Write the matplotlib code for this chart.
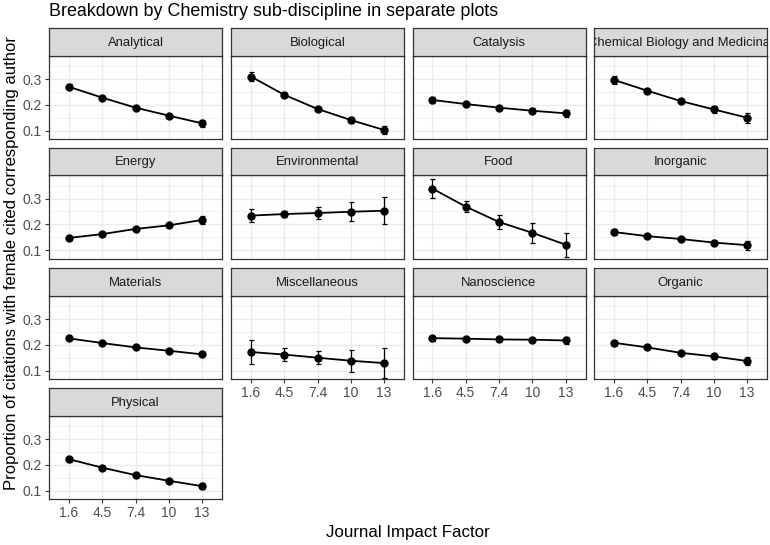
import matplotlib
matplotlib.use("Agg")
import matplotlib.pyplot as plt
from matplotlib.ticker import MultipleLocator
import numpy as np

plt.rcParams['font.family'] = ['Liberation Sans', 'DejaVu Sans']

impact_labels = ["1.6", "4.5", "7.4", "10", "13"]

disciplines = ["Analytical", "Biological", "Catalysis", "Chemical Biology and Medicinal",
               "Energy", "Environmental", "Food", "Inorganic",
               "Materials", "Miscellaneous", "Nanoscience", "Organic",
               "Physical"]

analytical = [0.270, 0.228, 0.189, 0.158, 0.128]
biological = [0.310, 0.239, 0.184, 0.141, 0.102]
catalysis = [0.219, 0.203, 0.189, 0.177, 0.167]
chem_bio_med = [0.297, 0.255, 0.215, 0.182, 0.150]
energy = [0.147, 0.162, 0.182, 0.196, 0.217]
environmental = [0.234, 0.240, 0.244, 0.249, 0.253]
food = [0.339, 0.269, 0.209, 0.167, 0.121]
inorganic = [0.170, 0.154, 0.143, 0.129, 0.119]
materials = [0.225, 0.207, 0.190, 0.177, 0.163]
miscellaneous = [0.172, 0.162, 0.150, 0.138, 0.129]
nanoscience = [0.226, 0.224, 0.221, 0.220, 0.217]
organic = [0.208, 0.190, 0.169, 0.155, 0.137]
physical = [0.222, 0.189, 0.160, 0.138, 0.117]

analytical_err = [0.010, 0.006, 0.006, 0.008, 0.014]
biological_err = [0.018, 0.008, 0.008, 0.012, 0.014]
catalysis_err = [0.012, 0.007, 0.006, 0.009, 0.014]
chem_bio_med_err = [0.016, 0.008, 0.009, 0.014, 0.020]
energy_err = [0.009, 0.006, 0.006, 0.008, 0.017]
environmental_err = [0.024, 0.011, 0.022, 0.036, 0.052]
food_err = [0.038, 0.020, 0.028, 0.040, 0.047]
inorganic_err = [0.010, 0.006, 0.006, 0.009, 0.018]
materials_err = [0.005, 0.004, 0.004, 0.004, 0.008]
miscellaneous_err = [0.047, 0.025, 0.026, 0.043, 0.060]
nanoscience_err = [0.010, 0.005, 0.005, 0.007, 0.013]
organic_err = [0.011, 0.006, 0.006, 0.009, 0.015]
physical_err = [0.010, 0.005, 0.006, 0.008, 0.012]

values = [analytical, biological, catalysis, chem_bio_med, energy, environmental,
          food, inorganic, materials, miscellaneous, nanoscience, organic, physical]
errors = [analytical_err, biological_err, catalysis_err, chem_bio_med_err, energy_err,
          environmental_err, food_err, inorganic_err, materials_err, miscellaneous_err,
          nanoscience_err, organic_err, physical_err]

W, H = 770, 545
fig = plt.figure(figsize=(7.7, 5.45), dpi=100)

col_left = [49, 231, 412.5, 594]
col_w = 173
row_top = [28, 147.5, 268, 388]
strip_h = 27.5
panel_h = 83.5

grid_c = '#EBEBEB'
border_c = '#333333'
x = np.arange(len(impact_labels))

for i, (name, vals, errs) in enumerate(zip(disciplines, values, errors)):
    r, c = divmod(i, 4)
    l = col_left[c]
    t = row_top[r]
    ax = fig.add_axes([l / W, 1 - (t + strip_h + panel_h) / H, col_w / W, panel_h / H])
    sax = fig.add_axes([l / W, 1 - (t + strip_h) / H, col_w / W, strip_h / H])
    # strip (long names are clipped at the strip edge, as in the original)
    sax.set_facecolor('#D9D9D9')
    sax.set_xticks([]); sax.set_yticks([])
    for s in sax.spines.values():
        s.set_color(border_c); s.set_linewidth(0.9)
    sax.text(0.5, 0.47, name, ha='center', va='center', fontsize=9.4,
             color='#1A1A1A', transform=sax.transAxes, clip_on=True)
    # panel
    ax.set_facecolor('white')
    ax.set_xlim(-0.6, len(impact_labels) - 0.4)
    ax.set_ylim(0.067, 0.392)
    ax.yaxis.set_minor_locator(MultipleLocator(0.05))
    ax.set_xticks(x)
    ax.set_yticks([0.1, 0.2, 0.3])
    ax.grid(which='major', color=grid_c, linewidth=1.0, zorder=0)
    ax.grid(which='minor', axis='y', color=grid_c, linewidth=0.5, zorder=0)
    ax.set_axisbelow(True)
    for s in ax.spines.values():
        s.set_color(border_c); s.set_linewidth(0.9)
    ax.tick_params(which='minor', length=0)
    ax.tick_params(which='major', length=3, color=border_c, width=0.8,
                   labelsize=10, labelcolor='#4D4D4D', pad=2)
    ax.errorbar(x, vals, yerr=errs, color='black', linewidth=1.3, marker='o',
                markersize=5, capsize=1.8, elinewidth=0.9, capthick=0.9, zorder=3)
    # labels
    if c == 0:
        ax.set_yticklabels(["0.1", "0.2", "0.3"])
    else:
        ax.tick_params(axis='y', which='major', length=0, labelleft=False)
    bottom_row = (i + 4 >= len(disciplines))
    if bottom_row:
        ax.set_xticklabels(impact_labels)
    else:
        ax.tick_params(axis='x', which='major', length=0, labelbottom=False)

fig.text(49 / W, 1 - 12 / H, "Breakdown by Chemistry sub-discipline in separate plots",
         ha='left', va='center', fontsize=12.9, color='black')
fig.text(12 / W, 1 - 263 / H,
         "Proportion of citations with female cited corresponding author",
         rotation=90, ha='center', va='center', fontsize=12, color='black')
fig.text(408 / W, 1 - 532 / H, "Journal Impact Factor", ha='center', va='center',
         fontsize=12.2, color='black')

fig.savefig("out.png", dpi=100, facecolor='white')
